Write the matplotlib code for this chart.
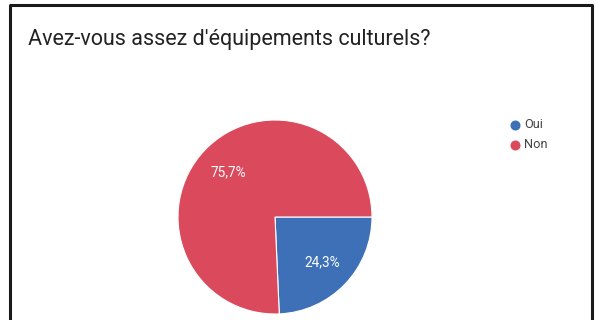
import matplotlib.pyplot as plt
from matplotlib.lines import Line2D

# data
labels = ["Oui", "Non"]
values = [24.3, 75.7]
colors = ["#3e70b7", "#db4a5c"]
title = "Avez-vous assez d'équipements culturels?"

W, H = 595, 320
fig = plt.figure(figsize=(W / 100, H / 100), dpi=100)
fig.patch.set_facecolor("white")

# frame around the card
frame = [(10, 319), (10, 5), (592, 5), (592, 319)]
fx = [p[0] / W for p in frame]
fy = [1 - p[1] / H for p in frame]
fig.add_artist(Line2D(fx, fy, color="#1a1a1a", lw=2.2))

fig.text(28 / W, 1 - 45 / H, title, fontsize=15.5, family="Roboto",
         color="#222222", va="baseline")

# pie axes: center (275, 217), radius 97 px
cx, cy, r = 275, 217, 97
ax = fig.add_axes([(cx - r) / W, 1 - (cy + r) / H, 2 * r / W, 2 * r / H])
ax.pie(values, colors=colors, startangle=0, counterclock=False, radius=1,
       pctdistance=0.67,
       autopct=lambda p: f"{p:.1f}%".replace(".", ","),
       textprops=dict(color="white", fontsize=9.8, family="Roboto"),
       wedgeprops=dict(edgecolor="white", linewidth=0.8))
ax.set_xlim(-1, 1)
ax.set_ylim(-1, 1)
ax.set_aspect("equal")
ax.axis("off")

# legend
for i, (lab, col) in enumerate(zip(labels, colors)):
    y = 1 - (125 + 20 * i) / H
    fig.add_artist(Line2D([515 / W], [y], marker="o", markersize=6.2,
                          color=col, lw=0))
    fig.text(524 / W, y, lab, fontsize=9.2, family="Roboto",
             color="#444444", va="center")

fig.savefig("out.png", dpi=100)
